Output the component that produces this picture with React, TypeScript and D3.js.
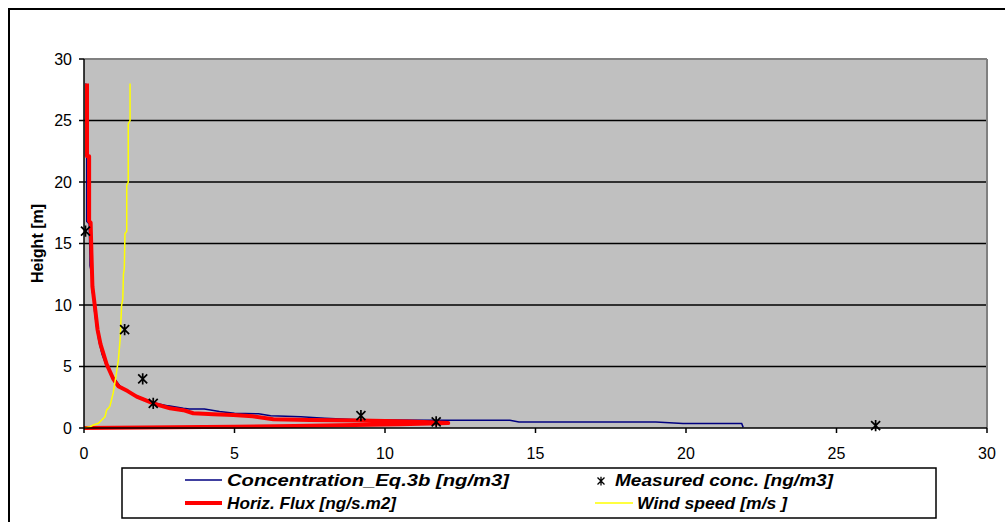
import React from "react";
import * as d3 from "d3";

// Modelled concentration profile (Eq.3b): value [ng/m3] against height [m]
const concValues = [0.06, 0.06, 0.09, 0.09, 0.17, 0.2, 0.2, 0.26, 0.28, 0.33, 0.35, 0.42, 0.5, 0.6, 0.75, 0.95, 1.2, 1.5, 1.85, 2.3, 2.8, 3.3, 3.5, 4.0, 4.5, 5.0, 5.8, 6.2, 7.2, 8.0, 9.1, 10.0, 11.6, 14.15, 14.45, 19.0, 19.9, 21.85, 21.9];
const concHeights = [28, 22.2, 22.2, 16.8, 16.6, 14, 13.2, 12.5, 11, 10.8, 9.5, 8.2, 7, 6, 5, 4.2, 3.4, 2.9, 2.5, 2.05, 1.8, 1.6, 1.55, 1.55, 1.35, 1.2, 1.15, 1.0, 0.92, 0.8, 0.68, 0.65, 0.63, 0.63, 0.48, 0.48, 0.37, 0.37, 0.05];

// Horizontal flux profile [ng/s.m2] against height [m]
const fluxValues = [0.1, 0.1, 0.17, 0.17, 0.22, 0.25, 0.28, 0.33, 0.38, 0.45, 0.55, 0.65, 0.75, 0.97, 1.14, 1.45, 1.75, 2.1, 2.36, 2.86, 3.3, 3.63, 4.3, 4.96, 5.6, 6.29, 7.5, 9.17, 10.83, 11.5, 12.1, 11.5, 10.5, 9.0, 7.0, 5.0, 3.0, 1.0, 0];
const fluxHeights = [28, 22.1, 22.1, 16.8, 16.7, 14, 11.5, 10.5, 9.5, 8, 6.8, 6, 5.2, 4, 3.4, 3.0, 2.55, 2.2, 1.95, 1.6, 1.45, 1.2, 1.12, 1.06, 0.95, 0.72, 0.65, 0.6, 0.52, 0.46, 0.4, 0.36, 0.31, 0.24, 0.16, 0.1, 0.06, 0.02, 0];

// Wind speed profile [m/s] against height [m]
const windValues = [1.53, 1.53, 1.47, 1.47, 1.42, 1.42, 1.36, 1.34, 1.31, 1.29, 1.25, 1.2, 1.14, 1.06, 0.97, 0.86, 0.75, 0.7, 0.53, 0.48, 0.31, 0.2, 0.03, 0];
const windHeights = [28, 25, 24.7, 20, 19.7, 16, 15.8, 13, 12.5, 10.5, 10, 7.2, 5.5, 4.2, 2.85, 1.75, 1.45, 0.92, 0.51, 0.38, 0.24, 0.1, 0.02, 0];

// Measured concentrations [ng/m3] at sampling heights [m]
const measuredValues = [0.05, 1.35, 1.95, 2.3, 9.2, 11.7, 26.3];
const measuredHeights = [16, 8, 4, 2, 1, 0.5, 0.2];

const xTicks = [0, 5, 10, 15, 20, 25, 30];
const yTicks = [0, 5, 10, 15, 20, 25, 30];

const legendLabels = [
  "Concentration_Eq.3b [ng/m3]",
  "Measured conc. [ng/m3]",
  "Horiz. Flux [ng/s.m2]",
  "Wind speed [m/s ]",
];

const W = 1005;
const H = 522;
const plot = { left: 84, right: 987, top: 59, bottom: 428 };
const FONT = "'Liberation Sans', Arial, sans-serif";

function pairs(xs: number[], ys: number[]): [number, number][] {
  return xs.map((v, i) => [v, ys[i]] as [number, number]);
}

function starPath(cx: number, cy: number, r: number): string {
  return `M${cx - r},${cy - r}L${cx + r},${cy + r}M${cx - r},${cy + r}L${cx + r},${cy - r}M${cx},${cy - r * 1.25}L${cx},${cy + r * 1.25}`;
}

export default function App() {
  const x = d3.scaleLinear().domain([0, 30]).range([plot.left, plot.right]);
  const y = d3.scaleLinear().domain([0, 30]).range([plot.bottom, plot.top]);

  const line = d3
    .line<[number, number]>()
    .x((d) => x(d[0]))
    .y((d) => y(d[1]));

  const conc = pairs(concValues, concHeights);
  const flux = pairs(fluxValues, fluxHeights);
  const wind = pairs(windValues, windHeights);
  const measured = pairs(measuredValues, measuredHeights);

  return (
    <svg
      width={W}
      height={H}
      style={{ position: "absolute", left: 0, top: 0, display: "block" }}
      fontFamily={FONT}
    >
      <rect x={0} y={0} width={W} height={H} fill="#ffffff" />
      <rect x={9} y={9} width={1010} height={530} fill="#ffffff" stroke="#000" strokeWidth={2} />

      {/* plot area */}
      <rect
        x={plot.left}
        y={plot.top}
        width={plot.right - plot.left}
        height={plot.bottom - plot.top}
        fill="#c0c0c0"
      />
      {yTicks
        .filter((t) => t > 0 && t < 30)
        .map((t) => (
          <line key={`g${t}`} x1={plot.left} x2={plot.right} y1={y(t)} y2={y(t)} stroke="#000" strokeWidth={1.3} />
        ))}
      <line x1={plot.left} x2={plot.right} y1={plot.top} y2={plot.top} stroke="#808080" strokeWidth={2} />
      <line x1={plot.right} x2={plot.right} y1={plot.top} y2={plot.bottom} stroke="#808080" strokeWidth={2} />

      {/* series */}
      <path d={line(conc) ?? ""} fill="none" stroke="#000080" strokeWidth={1.5} />
      <path d={line(flux) ?? ""} fill="none" stroke="#ff0000" strokeWidth={4} strokeLinejoin="round" />
      <path d={line(wind) ?? ""} fill="none" stroke="#ffff00" strokeWidth={1.5} />
      {measured.map((d, i) => (
        <path key={`m${i}`} d={starPath(x(d[0]), y(d[1]), 4.5)} stroke="#000" strokeWidth={1.7} fill="none" />
      ))}

      {/* axes */}
      <line x1={plot.left} x2={plot.left} y1={plot.top} y2={plot.bottom} stroke="#000" strokeWidth={1.5} />
      <line x1={plot.left} x2={plot.right} y1={plot.bottom} y2={plot.bottom} stroke="#000" strokeWidth={1.5} />
      {yTicks.map((t) => (
        <g key={`yt${t}`}>
          <line x1={plot.left - 5} x2={plot.left} y1={y(t)} y2={y(t)} stroke="#000" strokeWidth={1.5} />
          <text x={72} y={y(t)} dy="0.36em" textAnchor="end" fontSize={16} fill="#000">
            {t}
          </text>
        </g>
      ))}
      {xTicks.map((t) => (
        <g key={`xt${t}`}>
          <line x1={x(t)} x2={x(t)} y1={plot.bottom} y2={plot.bottom + 5} stroke="#000" strokeWidth={1.5} />
          <text x={x(t)} y={453} dy="0.36em" textAnchor="middle" fontSize={16} fill="#000">
            {t}
          </text>
        </g>
      ))}
      <text
        transform={`translate(37,${(plot.top + plot.bottom) / 2}) rotate(-90)`}
        textAnchor="middle"
        dy="0.36em"
        fontSize={16}
        fontWeight="bold"
        fill="#000"
      >
        Height [m]
      </text>

      {/* legend */}
      <rect x={122} y={468} width={814} height={50} fill="#fff" stroke="#000" strokeWidth={1.5} />
      <g fontSize={16.5} fontWeight="bold" fontStyle="italic" fill="#000">
        <line x1={185} x2={222} y1={480} y2={480} stroke="#000080" strokeWidth={1.5} />
        <text x={227} y={480} dy="0.36em" textLength={282} lengthAdjust="spacingAndGlyphs">
          {legendLabels[0]}
        </text>
        <path d={starPath(601, 481, 3.5)} stroke="#000" strokeWidth={1.3} fill="none" />
        <text x={615} y={480} dy="0.36em" textLength={218} lengthAdjust="spacingAndGlyphs">
          {legendLabels[1]}
        </text>
        <line x1={185} x2={222} y1={503} y2={503} stroke="#ff0000" strokeWidth={4} />
        <text x={227} y={503} dy="0.36em" textLength={169} lengthAdjust="spacingAndGlyphs">
          {legendLabels[2]}
        </text>
        <line x1={595} x2={633} y1={503} y2={503} stroke="#ffff00" strokeWidth={1.5} />
        <text x={637} y={503} dy="0.36em" textLength={150} lengthAdjust="spacingAndGlyphs">
          {legendLabels[3]}
        </text>
      </g>
    </svg>
  );
}
